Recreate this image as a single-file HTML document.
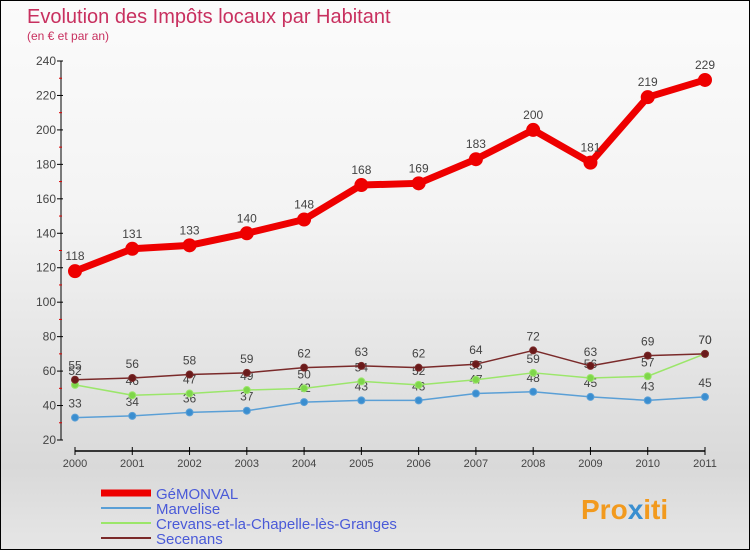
<!DOCTYPE html>
<html><head><meta charset="utf-8"><style>
body{margin:0}
#c{width:748px;height:548px;border:1px solid #000;background:linear-gradient(#fbfbfb,#f3f3f3 40%,#d9d9d9 85%,#e6e6e6);position:relative;font-family:"Liberation Sans",sans-serif;overflow:hidden}
</style></head><body>
<div id="c">
<svg id="s" width="748" height="548" style="position:absolute;left:0;top:0">
<text x="26" y="22" font-size="20" fill="#c8305f">Evolution des Impôts locaux par Habitant</text>
<text x="26" y="39" font-size="12" fill="#c8305f">(en € et par an)</text>
<g id="ax"></g><g id="marks"></g><g id="leg"></g>
<text x="580" y="518" font-size="28" font-weight="bold" fill="#f29a1e">Pro<tspan fill="#3a8fd0">x</tspan>iti</text>
</svg>
</div>
<script>
const years=[2000,2001,2002,2003,2004,2005,2006,2007,2008,2009,2010,2011];
const gemonval=[118,131,133,140,148,168,169,183,200,181,219,229];
const marvelise=[33,34,36,37,42,43,43,47,48,45,43,45];
const crevans=[52,46,47,49,50,54,52,55,59,56,57,70];
const secenans=[55,56,58,59,62,63,62,64,72,63,69,70];
const yTicks=[20,40,60,80,100,120,140,160,180,200,220,240];
const NS="http://www.w3.org/2000/svg";
const X=i=>74+i*(630/11);
const Y=v=>439-(v-20)*(379/220);
function mk(t,a,p){const e=document.createElementNS(NS,t);for(const k in a)e.setAttribute(k,a[k]);p.appendChild(e);return e;}
const ax=document.getElementById('ax'),mg=document.getElementById('marks'),lg=document.getElementById('leg');
let l=mk('line',{x1:60,y1:Y(240),x2:60,y2:Y(20),stroke:'#000'},ax);


l=mk('line',{x1:X(0),y1:450,x2:X(11),y2:450,stroke:'#000','stroke-width':1.5},ax);


yTicks.forEach((v,i)=>{
 mk('line',{x1:56,y1:Y(v),x2:62,y2:Y(v),stroke:'#000'},ax);
 if(i<yTicks.length-1)mk('line',{x1:58,y1:Y(v+10),x2:61,y2:Y(v+10),stroke:'#d00'},ax);
 const t=mk('text',{x:55,y:Y(v)+4,'font-size':12,fill:'#444','text-anchor':'end'},ax);t.textContent=v;
 
 
});
years.forEach((y,i)=>{
 mk('line',{x1:X(i),y1:446,x2:X(i),y2:454,stroke:'#000'},ax);
 const t=mk('text',{x:X(i),y:466,'font-size':11,fill:'#444','text-anchor':'middle'},ax);t.textContent=y;
 
 
});
function series(d,col,dot,w,r,name,lab){
 const p=mk('polyline',{points:d.map((v,i)=>X(i)+','+Y(v)).join(' '),fill:'none',stroke:col,'stroke-width':w,'stroke-linejoin':'round'},mg);
 
 
 d.forEach((v,i)=>{
  const c=mk('circle',{cx:X(i),cy:Y(v),r:r,fill:dot,stroke:col,'stroke-width':1},mg);
  
  
  const t=mk('text',{x:X(i),y:Y(v)-lab,'font-size':12,fill:'#444','text-anchor':'middle'},mg);t.textContent=v;
  
  
 });
}
series(marvelise,'#5a9fd6','#3a8ed0',1.5,3.5,'marvelise',10);
series(crevans,'#9be66a','#7ed64a',1.5,3.5,'crevans',10);
series(secenans,'#7a2a2a','#6a1a1a',1.5,3.5,'secenans',10);
series(gemonval,'#ee0000','#ee0000',7,6.5,'gemonval',11);
const ln=['GéMONVAL','Marvelise','Crevans-et-la-Chapelle-lès-Granges','Secenans'];
const lc=['#ee0000','#5a9fd6','#9be66a','#7a2a2a'];
const lw=[7,2,2,2];
ln.forEach((n,i)=>{
 const yy=492+i*15;
 const r=mk('line',{x1:100,y1:yy,x2:150,y2:yy,stroke:lc[i],'stroke-width':lw[i]},lg);
 
 
 const t=mk('text',{x:155,y:yy+6,'font-size':15,fill:'#4a5ad8'},lg);t.textContent=n;
 
 
});
</script>
</body></html>
